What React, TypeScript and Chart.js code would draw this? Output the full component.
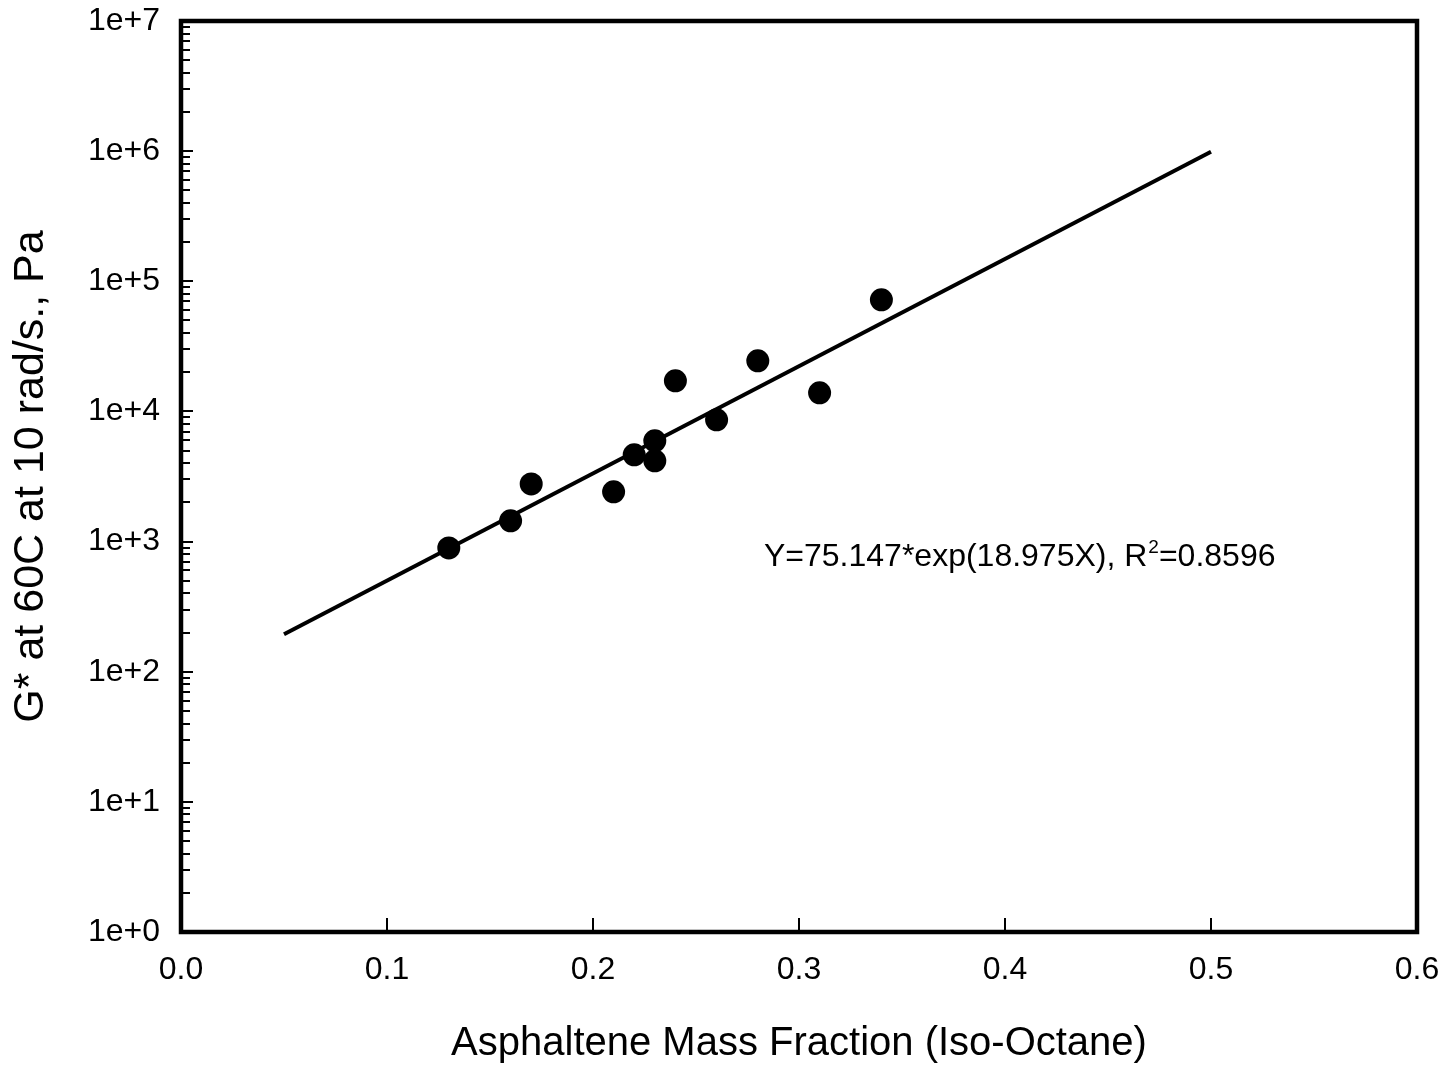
import React, { useEffect, useRef } from "react";
import { Chart, registerables } from "chart.js";

Chart.register(...registerables);

// Measured data (asphaltene mass fraction vs G*)
const X_VALUES = [0.13, 0.16, 0.17, 0.21, 0.22, 0.23, 0.23, 0.24, 0.26, 0.28, 0.31, 0.34];
const G_VALUES = [894, 1443, 2775, 2410, 4640, 5940, 4170, 17200, 8620, 24500, 13900, 72100];

// Fit line endpoints
const FIT_X = [0.05, 0.5];
const FIT_Y = [194, 990700];

// Axis ticks
const X_TICKS = [0, 0.1, 0.2, 0.3, 0.4, 0.5, 0.6];
const Y_DECADES = [0, 1, 2, 3, 4, 5, 6, 7];

// Annotation
const ANNOT_MAIN = "Y=75.147*exp(18.975X), R";
const ANNOT_SUP = "2";
const ANNOT_TAIL = "=0.8596";
const ANNOT_X = 0.283;
const ANNOT_Y = 650;

const X_TITLE = "Asphaltene Mass Fraction (Iso-Octane)";
const Y_TITLE = "G* at 60C at 10 rad/s., Pa";

const FONT = "Arial, 'Liberation Sans', Helvetica, sans-serif";

const zeroPad = (s: any) => {
  s.paddingLeft = 0;
  s.paddingRight = 0;
  s.paddingTop = 0;
  s.paddingBottom = 0;
};

const framePlugin = {
  id: "frameTicks",
  afterDraw(chart: any) {
    const ctx = chart.ctx;
    const { left, right, top, bottom } = chart.chartArea;
    const xs = chart.scales.x;
    const ys = chart.scales.y;
    ctx.save();
    ctx.strokeStyle = "#000";
    ctx.lineWidth = 2;
    for (let n = 0; n < 7; n++) {
      for (let k = 1; k <= 9; k++) {
        if (n === 0 && k === 1) continue;
        const v = k * Math.pow(10, n);
        const py = Math.round(ys.getPixelForValue(v));
        const len = k === 1 ? 10 : 7;
        ctx.beginPath();
        ctx.moveTo(left, py);
        ctx.lineTo(left + 2 + len, py);
        ctx.stroke();
      }
    }
    for (const t of X_TICKS) {
      if (t === 0 || t === 0.6) continue;
      const px = Math.round(xs.getPixelForValue(t));
      ctx.beginPath();
      ctx.moveTo(px, bottom);
      ctx.lineTo(px, bottom - 2 - 12);
      ctx.stroke();
    }
    ctx.lineWidth = 4.5;
    ctx.lineJoin = "miter";
    ctx.strokeRect(left, top, right - left, bottom - top);

    const ax = xs.getPixelForValue(ANNOT_X);
    const ay = ys.getPixelForValue(ANNOT_Y);
    ctx.fillStyle = "#000";
    ctx.textBaseline = "alphabetic";
    ctx.textAlign = "left";
    ctx.font = `32px ${FONT}`;
    ctx.fillText(ANNOT_MAIN, ax, ay);
    const w = ctx.measureText(ANNOT_MAIN).width;
    ctx.font = `19px ${FONT}`;
    ctx.fillText(ANNOT_SUP, ax + w + 1, ay - 13);
    const ws = ctx.measureText(ANNOT_SUP).width;
    ctx.font = `32px ${FONT}`;
    ctx.fillText(ANNOT_TAIL, ax + w + ws + 1, ay);
    ctx.restore();
  },
};

export default function App() {
  const ref = useRef<HTMLCanvasElement | null>(null);

  useEffect(() => {
    if (!ref.current) return;
    const chart = new Chart(ref.current, {
      type: "scatter",
      data: {
        datasets: [
          {
            label: "fit",
            data: FIT_X.map((x, i) => ({ x, y: FIT_Y[i] })),
            showLine: true,
            borderColor: "#000",
            borderWidth: 4,
            pointRadius: 0,
            borderCapStyle: "butt",
          } as any,
          {
            label: "data",
            data: X_VALUES.map((x, i) => ({ x, y: G_VALUES[i] })),
            pointRadius: 11.5,
            pointHoverRadius: 11.5,
            backgroundColor: "#000",
            borderColor: "#000",
            borderWidth: 0,
          },
        ],
      },
      options: {
        animation: false,
        responsive: false,
        maintainAspectRatio: false,
        events: [],
        layout: { padding: { left: 0, right: 33, top: 21, bottom: 0 } },
        plugins: { legend: { display: false }, tooltip: { enabled: false } },
        scales: {
          x: {
            type: "linear",
            min: 0,
            max: 0.6,
            afterBuildTicks: (s: any) => {
              s.ticks = X_TICKS.map((v) => ({ value: v }));
            },
            afterFit: (s: any) => {
              s.height = 140;
              zeroPad(s);
            },
            grid: { display: false, drawTicks: false },
            border: { display: false },
            ticks: {
              padding: 22,
              color: "#000",
              font: { family: FONT, size: 32, lineHeight: 1 },
              maxRotation: 0,
              callback: (v: any) => Number(v).toFixed(1),
            },
            title: {
              display: true,
              text: X_TITLE,
              color: "#000",
              font: { family: FONT, size: 40, lineHeight: 1 },
              padding: { top: 0, bottom: 8 },
            },
          },
          y: {
            type: "logarithmic",
            min: 1,
            max: 1e7,
            afterBuildTicks: (s: any) => {
              s.ticks = Y_DECADES.map((d) => ({ value: Math.pow(10, d), major: true }));
            },
            afterFit: (s: any) => {
              s.width = 181;
              zeroPad(s);
            },
            grid: { display: false, drawTicks: false },
            border: { display: false },
            ticks: {
              padding: 21,
              color: "#000",
              font: { family: FONT, size: 32, lineHeight: 1 },
              autoSkip: false,
              callback: (v: any) => `1e+${Math.round(Math.log10(Number(v)))}`,
            },
            title: {
              display: true,
              text: Y_TITLE,
              color: "#000",
              font: { family: FONT, size: 43, lineHeight: 1 },
              padding: { top: 10, bottom: 0 },
            },
          },
        },
      },
      plugins: [framePlugin],
    });
    return () => chart.destroy();
  }, []);

  return (
    <div style={{ position: "absolute", left: 0, top: 0, width: 1450, height: 1072, background: "#fff" }}>
      <canvas ref={ref} width={1450} height={1072} style={{ display: "block" }} />
    </div>
  );
}
